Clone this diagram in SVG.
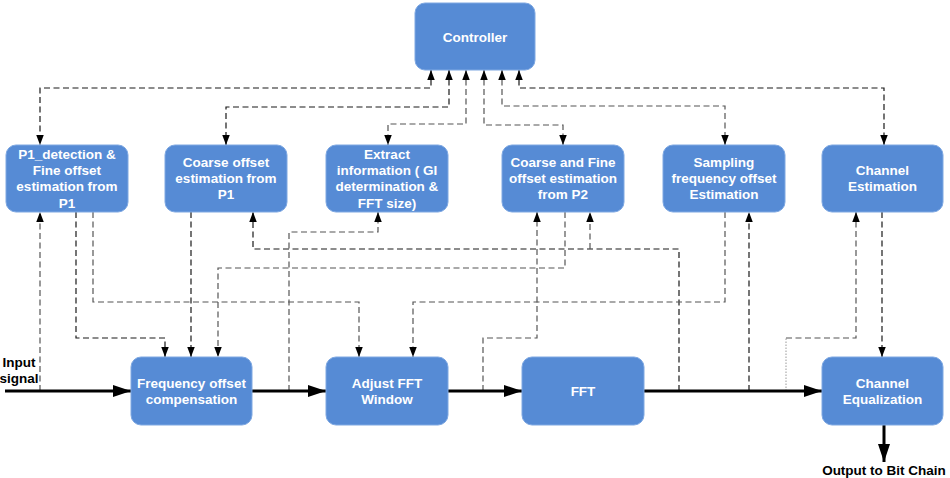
<svg xmlns="http://www.w3.org/2000/svg" width="950" height="478" viewBox="0 0 950 478">
<defs>
<style>
.box{fill:#568bd5;stroke:#7ea8e2;stroke-width:1}
.t{font-family:"Liberation Sans",Arial,sans-serif;font-weight:bold;font-size:13.5px;fill:#ffffff;text-anchor:middle}
.lbl{font-family:"Liberation Sans",Arial,sans-serif;font-weight:bold;font-size:13.5px;fill:#000000;text-anchor:middle}
.d{fill:none;stroke:#1a1a1a;stroke-width:1.2;stroke-dasharray:6 3.5}
.g{stroke:#555}
.dot{fill:none;stroke:#999;stroke-width:1;stroke-dasharray:1.5 1.5}
.main{fill:none;stroke:#000;stroke-width:3}
.ar{marker-end:url(#a)}
.ar2{marker-start:url(#a);marker-end:url(#a)}
</style>
<marker id="a" markerUnits="userSpaceOnUse" markerWidth="10" markerHeight="8" refX="10" refY="3.75" orient="auto-start-reverse" viewBox="0 0 10 7.5">
<path d="M0,0 L10,3.75 L0,7.5 z" fill="#000"/>
</marker>
<marker id="b" markerUnits="userSpaceOnUse" markerWidth="18" markerHeight="12" refX="18" refY="6" orient="auto" viewBox="0 0 18 12">
<path d="M0,0 L18,6 L0,12 z" fill="#000"/>
</marker>
</defs>
<rect width="950" height="478" fill="#ffffff"/>

<g id="connectors">
<path class="d ar2" d="M431,70 V88 H40 V145"/>
<path class="d ar2" d="M449,70 V107 H226 V145"/>
<path class="d g ar2" d="M466,70 V124 H388 V145"/>
<path class="d g ar2" d="M484,70 V125 H563 V145"/>
<path class="d g ar2" d="M502,70 V106 H725 V145"/>
<path class="d ar2" d="M519,70 V88 H884 V145"/>

<path class="d g ar" d="M40,391 V212"/>
<path class="d ar" d="M76,212 V338 H165 V357"/>
<path class="d g ar" d="M93,212 V302 H359 V357"/>
<path class="d ar" d="M191,212 V357"/>
<path class="d ar" d="M679,391 V249 H253 V212"/>
<path class="d g ar" d="M590,249 V212"/>
<path class="d g ar" d="M565,212 V268 H218 V357"/>
<path class="d g ar" d="M289,391 V232 H378 V212"/>
<path class="d g ar" d="M725,212 V302 H413 V357"/>
<path class="d g ar" d="M483,391 V338 H537 V212"/>
<path class="d ar" d="M749,391 V212"/>
<path class="dot" d="M786,391 V338"/>
<path class="d g ar" d="M786,338 H856 V212"/>
<path class="d ar" d="M882,212 V357"/>

<path class="main" marker-end="url(#b)" d="M5,391 H131"/>
<path class="main" marker-end="url(#b)" d="M252,391 H326"/>
<path class="main" marker-end="url(#b)" d="M448,391 H522"/>
<path class="main" marker-end="url(#b)" d="M644,391 H822"/>
<path class="main" marker-end="url(#b)" d="M884,425 V462"/>
</g>

<g id="controller">
<rect class="box" x="415" y="3" width="120" height="67" rx="10"/>
<text class="t" x="475" y="41.6">Controller</text>
</g>

<g id="p1-detection">
<rect class="box" x="6" y="145" width="122" height="67" rx="10"/>
<text class="t" x="67" y="158.6">P1_detection &amp;</text>
<text class="t" x="67" y="174.9">Fine offset</text>
<text class="t" x="67" y="191.2">estimation from</text>
<text class="t" x="67" y="207.5">P1</text>
</g>

<g id="coarse-p1">
<rect class="box" x="165" y="145" width="122" height="67" rx="10"/>
<text class="t" x="226" y="166.8">Coarse offset</text>
<text class="t" x="226" y="183.1">estimation from</text>
<text class="t" x="226" y="199.4">P1</text>
</g>

<g id="extract-info">
<rect class="box" x="326" y="145" width="122" height="67" rx="10"/>
<text class="t" x="387" y="158.6">Extract</text>
<text class="t" x="387" y="174.9">information ( GI</text>
<text class="t" x="387" y="191.2">determination &amp;</text>
<text class="t" x="387" y="207.5">FFT size)</text>
</g>

<g id="coarse-fine-p2">
<rect class="box" x="502" y="145" width="122" height="67" rx="10"/>
<text class="t" x="563" y="166.8">Coarse and Fine</text>
<text class="t" x="563" y="183.1">offset estimation</text>
<text class="t" x="563" y="199.4">from P2</text>
</g>

<g id="sampling-freq">
<rect class="box" x="663" y="145" width="122" height="67" rx="10"/>
<text class="t" x="724" y="166.8">Sampling</text>
<text class="t" x="724" y="183.1">frequency offset</text>
<text class="t" x="724" y="199.4">Estimation</text>
</g>

<g id="channel-estimation">
<rect class="box" x="822" y="145" width="121" height="67" rx="10"/>
<text class="t" x="882.5" y="174.9">Channel</text>
<text class="t" x="882.5" y="191.2">Estimation</text>
</g>

<g id="freq-comp">
<rect class="box" x="131" y="357" width="121" height="68" rx="10"/>
<text class="t" x="191.5" y="387.6">Frequency offset</text>
<text class="t" x="191.5" y="403.9">compensation</text>
</g>

<g id="adjust-fft">
<rect class="box" x="326" y="357" width="122" height="68" rx="10"/>
<text class="t" x="387" y="387.6">Adjust FFT</text>
<text class="t" x="387" y="403.9">Window</text>
</g>

<g id="fft">
<rect class="box" x="522" y="357" width="122" height="68" rx="10"/>
<text class="t" x="583" y="395.6">FFT</text>
</g>

<g id="channel-eq">
<rect class="box" x="822" y="357" width="121" height="68" rx="10"/>
<text class="t" x="882.5" y="387.6">Channel</text>
<text class="t" x="882.5" y="403.9">Equalization</text>
</g>

<g id="labels">
<text class="lbl" x="19" y="366.6">Input</text>
<text class="lbl" x="19" y="382.9">signal</text>
<text class="lbl" x="884" y="474.6">Output to Bit Chain</text>
</g>
</svg>
